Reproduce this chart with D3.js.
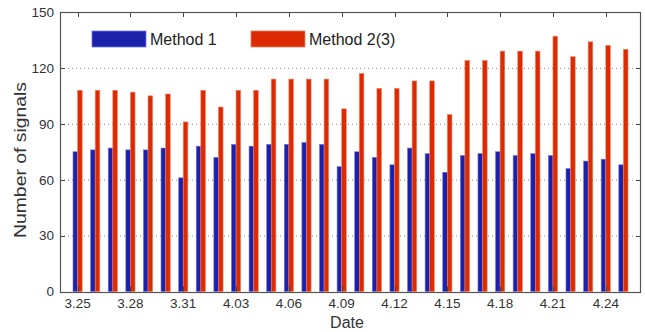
<!DOCTYPE html>
<html lang="en">
<head>
    <meta charset="UTF-8">
    <title>Number of signals</title>
    <style>
        body { margin: 0; background: #fff; font-family: Arial, "Liberation Sans", sans-serif; }
        .tick text { fill: #333; font-size: 13.5px; }
        .grid line { stroke: #8a8a8a; stroke-dasharray: 1,3; }
    </style>
</head>
<body>
    <svg id="chart" width="645" height="332"></svg>
    <script src="https://d3js.org/d3.v7.min.js"></script>
    <script>
        // dates, one group per day
        const dates = ["3.25","3.26","3.27","3.28","3.29","3.30","3.31",
            "4.01","4.02","4.03","4.04","4.05","4.06","4.07","4.08","4.09","4.10",
            "4.11","4.12","4.13","4.14","4.15","4.16","4.17","4.18","4.19","4.20",
            "4.21","4.22","4.23","4.24","4.25"];
        const tickLabels = ["3.25","3.28","3.31","4.03","4.06","4.09","4.12","4.15","4.18","4.21","4.24"];
        const method1 = [75,76,77,76,76,77,61,78,72,79,78,79,79,80,79,67,75,72,68,77,74,64,73,74,75,73,74,73,66,70,71,68];
        const method2 = [108,108,108,107,105,106,91,108,99,108,108,114,114,114,114,98,117,109,109,113,113,95,124,124,129,129,129,137,126,134,132,130];
        const seriesNames = ["Method 1", "Method 2(3)"];
        const yTicks = [0, 30, 60, 90, 120, 150];

        const margin = { top: 12, right: 4, bottom: 40, left: 60 };
        const width = 645, height = 332;
        const svg = d3.select("#chart");

        const x = d3.scaleBand()
            .domain(dates)
            .range([margin.left, width - margin.right])
            .paddingInner(0)
            .paddingOuter(0.5);
        const barW = 4.6;
        const x1 = d3.scaleBand().domain([0, 1]).range([-barW, barW]);
        const y = d3.scaleLinear().domain([0, 150]).range([291.5, margin.top]);
        const colors = ["#1b21a8", "#dc2a04"];
        const strokes = ["#7277ea", "#f2825f"];

        const x0 = margin.left, x2 = width - margin.right;
        const yb = y(0), yt = y(150);

        // grid
        svg.append("g").attr("class", "grid")
            .selectAll("line")
            .data(yTicks.filter(v => v > 0 && v < 150))
            .join("line")
            .attr("x1", x0).attr("x2", x2)
            .attr("y1", d => y(d) + 0.5).attr("y2", d => y(d) + 0.5);

        // bars
        const rows = dates.map((d, i) => ({ date: d, vals: [method1[i], method2[i]] }));
        const groups = svg.append("g").selectAll("g")
            .data(rows)
            .join("g")
            .attr("transform", d => `translate(${x(d.date) + x.bandwidth() / 2},0)`);
        groups.selectAll("rect")
            .data(d => d.vals.map((v, k) => ({ v, k })))
            .join("rect")
            .attr("x", d => x1(d.k))
            .attr("width", x1.bandwidth())
            .attr("y", d => y(d.v))
            .attr("height", d => yb - y(d.v))
            .attr("fill", d => colors[d.k])
            .attr("stroke", d => strokes[d.k])
            .attr("stroke-width", 0.6);

        // axes
        const tickX = d3.axisBottom(x).tickValues(tickLabels).tickSize(0).tickPadding(7);
        svg.append("g")
            .attr("transform", `translate(0,${yb})`)
            .call(tickX)
            .call(g => g.select(".domain").remove());

        const yAxis = d3.axisLeft(y).tickValues(yTicks).tickSize(0).tickPadding(6);
        svg.append("g")
            .attr("transform", `translate(${x0},0)`)
            .call(yAxis)
            .call(g => g.select(".domain").remove());

        // inward ticks on all four sides
        const tk = svg.append("g").attr("stroke", "#444").attr("stroke-width", 1);
        tickLabels.forEach(t => {
            const cx = Math.round(x(t) + x.bandwidth() / 2) + 0.5;
            tk.append("line").attr("x1", cx).attr("x2", cx).attr("y1", yb).attr("y2", yb - 5);
            tk.append("line").attr("x1", cx).attr("x2", cx).attr("y1", yt).attr("y2", yt + 5);
        });
        yTicks.forEach(v => {
            const cy = Math.round(y(v)) + 0.5;
            tk.append("line").attr("x1", x0).attr("x2", x0 + 5).attr("y1", cy).attr("y2", cy);
            tk.append("line").attr("x1", x2).attr("x2", x2 - 5).attr("y1", cy).attr("y2", cy);
        });

        // frame
        svg.append("rect")
            .attr("x", x0 + 0.5).attr("y", Math.round(yt) + 0.5)
            .attr("width", x2 - x0 - 1).attr("height", Math.round(yb) - Math.round(yt))
            .attr("fill", "none").attr("stroke", "#555").attr("stroke-width", 1.2);

        // legend
        const legend = svg.append("g");
        const legX = [92, 251];
        seriesNames.forEach((name, k) => {
            legend.append("rect")
                .attr("x", legX[k]).attr("y", 31).attr("width", 54).attr("height", 16)
                .attr("fill", colors[k]).attr("stroke", strokes[k]).attr("stroke-width", 0.8);
            legend.append("text")
                .attr("x", legX[k] + 58).attr("y", 45)
                .attr("font-size", 16).attr("fill", "#222")
                .text(name);
        });

        // axis titles
        svg.append("text")
            .attr("x", 347).attr("y", 328)
            .attr("text-anchor", "middle")
            .attr("font-size", 16).attr("fill", "#333")
            .text("Date");
        svg.append("text")
            .attr("transform", "translate(26,160) rotate(-90)")
            .attr("text-anchor", "middle")
            .attr("font-size", 16).attr("fill", "#333")
            .attr("textLength", 156).attr("lengthAdjust", "spacingAndGlyphs")
            .text("Number of signals");
    </script>
</body>
</html>
